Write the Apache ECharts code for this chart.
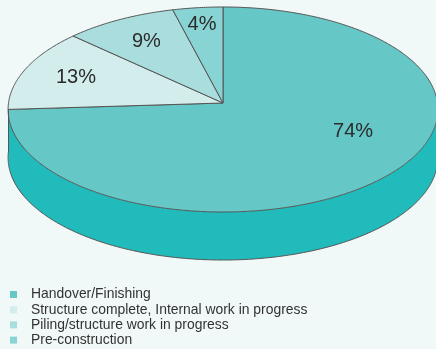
<!DOCTYPE html>
<html>
<head>
<meta charset="utf-8">
<script src="https://cdn.jsdelivr.net/npm/echarts@6/dist/echarts.min.js"></script>
<style>
html,body{margin:0;padding:0;background:#F1F8F8;}
#chart{width:436px;height:349px;}
</style>
</head>
<body>
<div id="chart"></div>
<script>
// ---- data ----
const categories = [
  'Handover/Finishing',
  'Structure complete, Internal work in progress',
  'Piling/structure work in progress',
  'Pre-construction'
];
const shares = [74, 13, 9, 4];
const labelTexts = shares.map(v => v + '%');

// ---- style ----
const topColors = ['#66C7C7', '#D3EDED', '#AADEDE', '#88D3D3'];
const sideColors = ['#22BBBB', '#22BBBB', '#22BBBB', '#22BBBB'];
const labelPlacement = [ {f: 0.43, r: 0.655}, {f: 0.5, r: 0.74}, {f: 0.5, r: 0.73}, {f: 0.5, r: 0.82} ];
const CX = 223, CY = 103, RX = 214.5, RY = 102.1, K = 0.0634, DEPTH = 48;
const EDGE = '#555555';

const total = shares.reduce((a, b) => a + b, 0);
const starts = [];
{ let acc = 0; for (const v of shares) { starts.push(acc); acc += v; } }

function proj(theta, r, dy) {
  const u = r * Math.sin(theta), v = -r * Math.cos(theta);
  const s = 1 / (1 - K * v);
  return [CX + RX * u * s, CY + RY * v * s + (dy || 0)];
}
function arc(a0, a1, r, dy) {
  const pts = [];
  const n = Math.max(2, Math.ceil(Math.abs(a1 - a0) / 0.01));
  for (let i = 0; i <= n; i++) pts.push(proj(a0 + (a1 - a0) * i / n, r, dy));
  return pts;
}

function renderItem(params, api) {
  const i = params.dataIndex;
  const val = api.value(0);
  const a0 = starts[i] / total * Math.PI * 2;
  const a1 = a0 + val / total * Math.PI * 2;
  const children = [];
  // front wall
  const lo = Math.max(a0, Math.PI / 2), hi = Math.min(a1, Math.PI * 1.5);
  if (lo < hi) {
    const topArc = arc(lo, hi, 1, 0);
    const botArc = arc(hi, lo, 1, DEPTH);
    children.push({
      type: 'polygon', shape: { points: topArc.concat(botArc) },
      style: { fill: sideColors[i], stroke: null }
    });
    children.push({
      type: 'polyline', shape: { points: botArc },
      style: { stroke: EDGE, lineWidth: 1, fill: null }
    });
    if (Math.abs(hi - Math.PI * 1.5) < 1e-6) {
      const p = proj(hi, 1, 0);
      children.push({ type: 'line', shape: { x1: p[0], y1: p[1], x2: p[0], y2: p[1] + DEPTH },
        style: { stroke: EDGE, lineWidth: 1 } });
    }
    if (Math.abs(lo - Math.PI / 2) < 1e-6) {
      const p = proj(lo, 1, 0);
      children.push({ type: 'line', shape: { x1: p[0], y1: p[1], x2: p[0], y2: p[1] + DEPTH },
        style: { stroke: EDGE, lineWidth: 1 } });
    }
  }
  // top face
  const pts = [[CX, CY]].concat(arc(a0, a1, 1, 0));
  children.push({
    type: 'polygon', shape: { points: pts },
    style: { fill: topColors[i], stroke: EDGE, lineWidth: 1, lineJoin: 'round' }
  });
  // label
  const lp = labelPlacement[i];
  const lpos = proj(a0 + (a1 - a0) * lp.f, lp.r, 0);
  children.push({
    type: 'text', z2: 10,
    style: {
      text: labelTexts[i], x: lpos[0], y: lpos[1],
      fill: '#2B2B2B', font: '20px "Liberation Sans", Arial, sans-serif',
      align: 'center', verticalAlign: 'middle'
    }
  });
  return { type: 'group', children };
}

const chart = echarts.init(document.getElementById('chart'), null, { renderer: 'canvas' });
chart.setOption({
  backgroundColor: '#F1F8F8',
  animation: false,
  legend: {
    orient: 'vertical', left: 10, top: 287.5, height: 70, width: 400, padding: 0,
    icon: 'rect', itemWidth: 7, itemHeight: 7, itemGap: 1.2,
    data: categories,
    textStyle: { color: '#333333', fontSize: 13.9, lineHeight: 13, padding: [0, 0, 0, 9],
      fontFamily: '"Liberation Sans", Arial, sans-serif' },
    selectedMode: false
  },
  series: [
    {
      type: 'custom', name: 'pie3d', coordinateSystem: 'none',
      renderItem: renderItem,
      data: shares.map((v, i) => ({ name: categories[i], value: [v] })),
      silent: true
    },
    {
      // zero-radius pie only feeding the legend
      type: 'pie', radius: [0, 0], center: [-100, -100], silent: true,
      label: { show: false }, labelLine: { show: false },
      data: shares.map((v, i) => ({ name: categories[i], value: v, itemStyle: { color: topColors[i] } }))
    }
  ]
});
</script>
</body>
</html>
